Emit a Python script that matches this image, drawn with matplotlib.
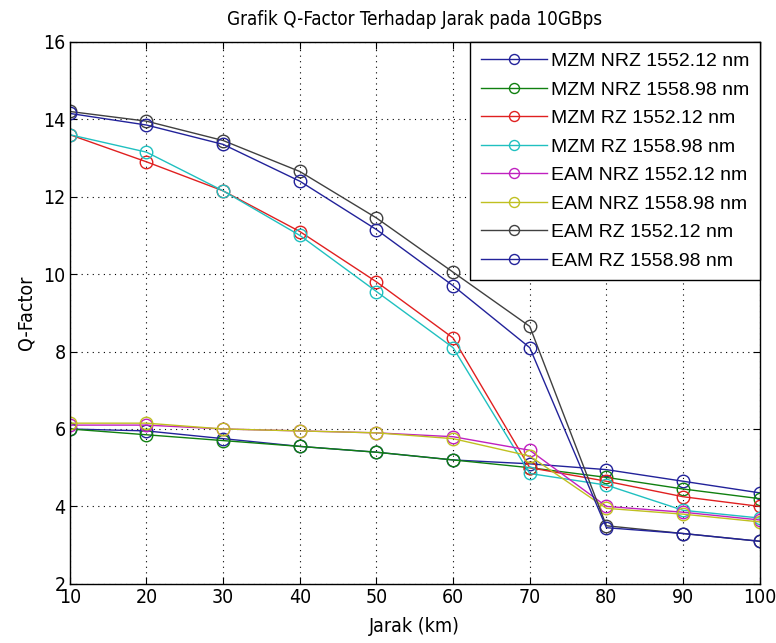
import matplotlib
matplotlib.use("Agg")
import matplotlib.pyplot as plt

plt.rcParams['font.family'] = ['Liberation Sans', 'DejaVu Sans']

jarak = [10, 20, 30, 40, 50, 60, 70, 80, 90, 100]

mzm_nrz_1552 = [6.0, 5.95, 5.75, 5.55, 5.4, 5.2, 5.1, 4.95, 4.65, 4.35]
mzm_nrz_1558 = [6.0, 5.85, 5.7, 5.55, 5.4, 5.2, 5.0, 4.75, 4.45, 4.2]
mzm_rz_1552 = [13.6, 12.9, 12.15, 11.1, 9.8, 8.35, 5.0, 4.65, 4.25, 4.0]
mzm_rz_1558 = [13.6, 13.15, 12.15, 11.0, 9.55, 8.1, 4.85, 4.55, 3.9, 3.7]
eam_nrz_1552 = [6.1, 6.1, 6.0, 5.95, 5.9, 5.8, 5.45, 4.0, 3.85, 3.65]
eam_nrz_1558 = [6.15, 6.15, 6.0, 5.95, 5.9, 5.75, 5.3, 3.95, 3.8, 3.6]
eam_rz_1552 = [14.2, 13.95, 13.45, 12.65, 11.45, 10.05, 8.65, 3.5, 3.3, 3.1]
eam_rz_1558 = [14.15, 13.85, 13.35, 12.4, 11.15, 9.7, 8.1, 3.45, 3.3, 3.1]

labels = ['MZM NRZ 1552.12 nm', 'MZM NRZ 1558.98 nm', 'MZM RZ 1552.12 nm',
          'MZM RZ 1558.98 nm', 'EAM NRZ 1552.12 nm', 'EAM NRZ 1558.98 nm',
          'EAM RZ 1552.12 nm', 'EAM RZ 1558.98 nm']
series = [mzm_nrz_1552, mzm_nrz_1558, mzm_rz_1552, mzm_rz_1558,
          eam_nrz_1552, eam_nrz_1558, eam_rz_1552, eam_rz_1558]
colors = ['#22229a', '#108010', '#e02020', '#20c0c0',
          '#c020c0', '#c0c020', '#404040', '#22229a']

narrow = dict(family=['DejaVu Sans'], fontstretch='condensed')

fig = plt.figure(figsize=(7.76, 6.43), dpi=100)
ax = fig.add_axes([0.090, 0.092, 0.889, 0.843])

for ys, lab, c in zip(series, labels, colors):
    ax.plot(jarak, ys, color=c, marker='o', markerfacecolor='none',
            markersize=9, linewidth=1, label=lab)

ax.set_xlim(10, 100)
ax.set_ylim(2, 16)
ax.set_xticks(range(10, 101, 10))
ax.set_yticks(range(2, 17, 2))
ax.tick_params(direction='in', top=True, right=True, length=5, pad=3)
for t in ax.get_xticklabels() + ax.get_yticklabels():
    t.set_fontsize(14)
    t.set_family(['DejaVu Sans'])
    t.set_fontstretch('condensed')
ax.grid(True, color='black', linestyle=(0, (1, 4)), linewidth=0.8)
for s in ax.spines.values():
    s.set_linewidth(1)

ax.set_xlabel('Jarak (km)', fontsize=14, labelpad=7, **narrow)
ax.set_ylabel('Q-Factor', fontsize=14, labelpad=6, **narrow)
ax.set_title('Grafik Q-Factor Terhadap Jarak pada 10GBps', fontsize=13.5,
             pad=12, **narrow)

leg = ax.legend(loc='upper right', borderaxespad=0, fancybox=False,
                edgecolor='black', framealpha=1, numpoints=1, markerscale=0.8,
                handlelength=3.4, labelspacing=0.56, borderpad=0.55,
                handletextpad=0.2, prop={'size': 14})
leg.get_frame().set_linewidth(1)

fig.savefig('out.png', dpi=100)
